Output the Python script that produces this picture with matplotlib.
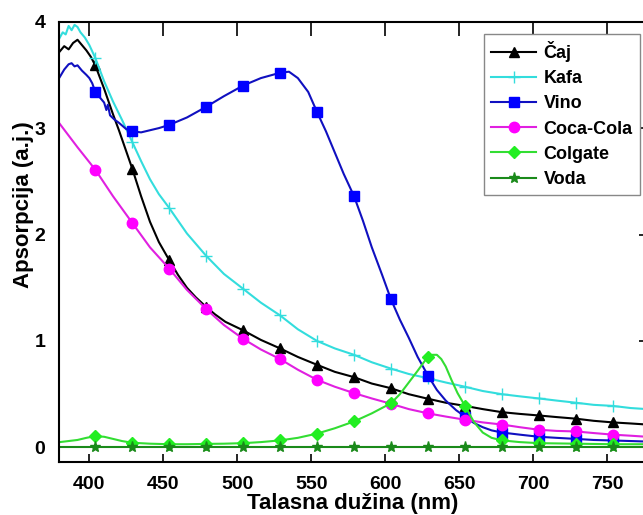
import matplotlib
matplotlib.use("Agg")
import matplotlib.pyplot as plt

# ---------------- data ----------------
marker_wl = [404, 429, 454, 479, 504, 529, 554, 579, 604, 629, 654, 679, 704, 729, 754]

caj_wl = [380, 383, 386, 389, 392, 395, 398, 401, 404, 410, 416, 420, 425, 429, 435, 441,
          447, 454, 460, 466, 472, 479, 485, 492, 498, 504, 516, 529, 541, 554, 566, 579,
          591, 604, 616, 629, 641, 654, 666, 679, 691, 704, 716, 729, 741, 754, 766, 777]
caj = [3.72, 3.77, 3.74, 3.80, 3.83, 3.78, 3.73, 3.67, 3.59, 3.37, 3.13, 2.98, 2.78, 2.62,
       2.36, 2.12, 1.93, 1.76, 1.62, 1.50, 1.41, 1.32, 1.25, 1.18, 1.14, 1.10, 1.01, 0.93,
       0.85, 0.776, 0.71, 0.66, 0.60, 0.556, 0.50, 0.457, 0.42, 0.39, 0.36, 0.331, 0.315,
       0.30, 0.285, 0.27, 0.25, 0.235, 0.225, 0.215]

kafa_wl = [380, 382, 384, 386, 388, 390, 392, 394, 397, 400, 404, 410, 416, 422, 429, 435,
           441, 447, 454, 466, 479, 491, 504, 516, 529, 541, 554, 566, 579, 591, 604, 616,
           629, 641, 654, 666, 679, 691, 704, 716, 729, 741, 754, 766, 777]
kafa = [3.85, 3.90, 3.88, 3.96, 3.92, 3.97, 3.95, 3.90, 3.85, 3.78, 3.66, 3.44, 3.25, 3.08,
        2.87, 2.69, 2.52, 2.38, 2.25, 2.01, 1.80, 1.63, 1.49, 1.36, 1.24, 1.11, 1.00, 0.93,
        0.87, 0.80, 0.74, 0.69, 0.65, 0.61, 0.57, 0.53, 0.50, 0.48, 0.46, 0.44, 0.42, 0.40,
        0.39, 0.37, 0.36]

vino_wl = [380, 383, 386, 388, 390, 392, 395, 398, 400, 402, 404, 407, 410, 411.5, 412.5,
           414, 417, 420, 425, 429, 435, 441, 447, 454, 466, 479, 491, 504, 516, 529, 535,
           541, 548, 554, 560, 566, 572, 579, 585, 591, 598, 604, 610, 616, 622, 629, 635,
           641, 648, 654, 660, 666, 672, 679, 691, 704, 716, 729, 741, 754, 766, 777]
vino = [3.48, 3.55, 3.60, 3.61, 3.58, 3.59, 3.54, 3.50, 3.47, 3.42, 3.34, 3.29, 3.24, 3.17,
        3.22, 3.12, 3.08, 3.05, 2.99, 2.97, 2.96, 2.98, 3.00, 3.03, 3.10, 3.20, 3.30, 3.40,
        3.47, 3.52, 3.53, 3.47, 3.34, 3.15, 2.97, 2.77, 2.57, 2.36, 2.13, 1.88, 1.62, 1.39,
        1.20, 1.03, 0.85, 0.675, 0.54, 0.44, 0.35, 0.29, 0.23, 0.19, 0.16, 0.14, 0.12, 0.10,
        0.09, 0.08, 0.07, 0.065, 0.06, 0.055]

coca_wl = [380, 392, 404, 416, 429, 441, 454, 466, 479, 491, 504, 516, 529, 541, 554, 566,
           579, 591, 604, 616, 629, 641, 654, 666, 679, 691, 704, 716, 729, 741, 754, 766, 777]
coca = [3.04, 2.82, 2.61, 2.36, 2.11, 1.88, 1.68, 1.48, 1.30, 1.15, 1.02, 0.92, 0.83, 0.73,
        0.635, 0.57, 0.51, 0.46, 0.41, 0.36, 0.32, 0.29, 0.26, 0.235, 0.215, 0.19, 0.166,
        0.155, 0.15, 0.135, 0.12, 0.11, 0.10]

colg_wl = [380, 386, 392, 398, 404, 410, 416, 422, 429, 441, 454, 466, 479, 491, 504, 516,
           529, 541, 554, 566, 579, 591, 604, 610, 616, 622, 629, 632, 635, 638, 641, 645,
           649, 654, 660, 666, 672, 679, 691, 704, 729, 754, 777]
colg = [0.05, 0.06, 0.07, 0.09, 0.106, 0.10, 0.08, 0.06, 0.044, 0.035, 0.03, 0.03, 0.033,
        0.035, 0.04, 0.05, 0.066, 0.09, 0.13, 0.18, 0.244, 0.32, 0.415, 0.50, 0.61, 0.72,
        0.854, 0.87, 0.87, 0.83, 0.76, 0.63, 0.51, 0.39, 0.24, 0.14, 0.09, 0.066, 0.05, 0.04,
        0.035, 0.03, 0.03]

voda_wl = [380, 404, 429, 454, 479, 504, 529, 554, 579, 604, 629, 654, 679, 704, 729, 754, 777]
voda = [0.0, 0.0, 0.0, 0.0, 0.0, 0.0, 0.0, 0.0, 0.0, 0.0, 0.0, 0.0, 0.0, 0.0, 0.0, 0.0, 0.0]

x_ticks = [400, 450, 500, 550, 600, 650, 700, 750]
y_ticks = [0, 1, 2, 3, 4]

# ---------------- style ----------------
plt.rcParams["font.family"] = ["Liberation Sans", "DejaVu Sans"]
plt.rcParams["font.weight"] = "bold"

fig = plt.figure(figsize=(6.43, 5.15), dpi=100)
ax = fig.add_axes([0.0918, 0.1023, 0.9142, 0.8556])


def marks(wl):
    return [i for i, w in enumerate(wl) if w in marker_wl]


series = [
    (caj_wl, caj, "Čaj", "black", "black", "^", 7),
    (kafa_wl, kafa, "Kafa", "#33dddd", "#33dddd", "+", 9),
    (vino_wl, vino, "Vino", "#1010c0", "#0000ff", "s", 6.5),
    (coca_wl, coca, "Coca-Cola", "#e020e0", "#ff00ff", "o", 7.5),
    (colg_wl, colg, "Colgate", "#33dd33", "#22ee22", "D", 6.5),
    (voda_wl, voda, "Voda", "#1a8a1a", "#1a8a1a", "*", 8),
]
for wl, val, lab, lc, mc, mk, ms in series:
    ax.plot(wl, val, color=lc, lw=1.5, marker=mk, ms=ms, mfc=mc, mec=mc,
            markevery=marks(wl), label=lab)

ax.set_xlim(379.5, 777)
ax.set_ylim(-0.14, 4.0)
ax.set_xticks(x_ticks)
ax.set_yticks(y_ticks)
ax.tick_params(axis="x", direction="in", length=6, width=1.2, top=True, pad=10,
               labelsize=14)
ax.tick_params(axis="y", direction="in", length=6, width=1.2, left=False, right=True,
               pad=10, labelsize=14)
for t in ax.xaxis.get_major_ticks():
    t.tick2line.set_markersize(10)
for s in ax.spines.values():
    s.set_linewidth(1.5)

ax.set_xlabel("Talasna dužina (nm)", fontsize=16, fontweight="bold", labelpad=0)
ax.set_ylabel("Apsorpcija (a.j.)", fontsize=16, fontweight="bold")
ax.yaxis.set_label_coords(-0.043, 0.584)

leg = ax.legend(loc="upper right", bbox_to_anchor=(0.988, 0.972), borderaxespad=0,
                fontsize=13, handlelength=2.5, handletextpad=0.4, labelspacing=0.45,
                fancybox=False, edgecolor="#888888", framealpha=1)
leg.get_frame().set_linewidth(1.0)

fig.savefig("out.png", dpi=100)
